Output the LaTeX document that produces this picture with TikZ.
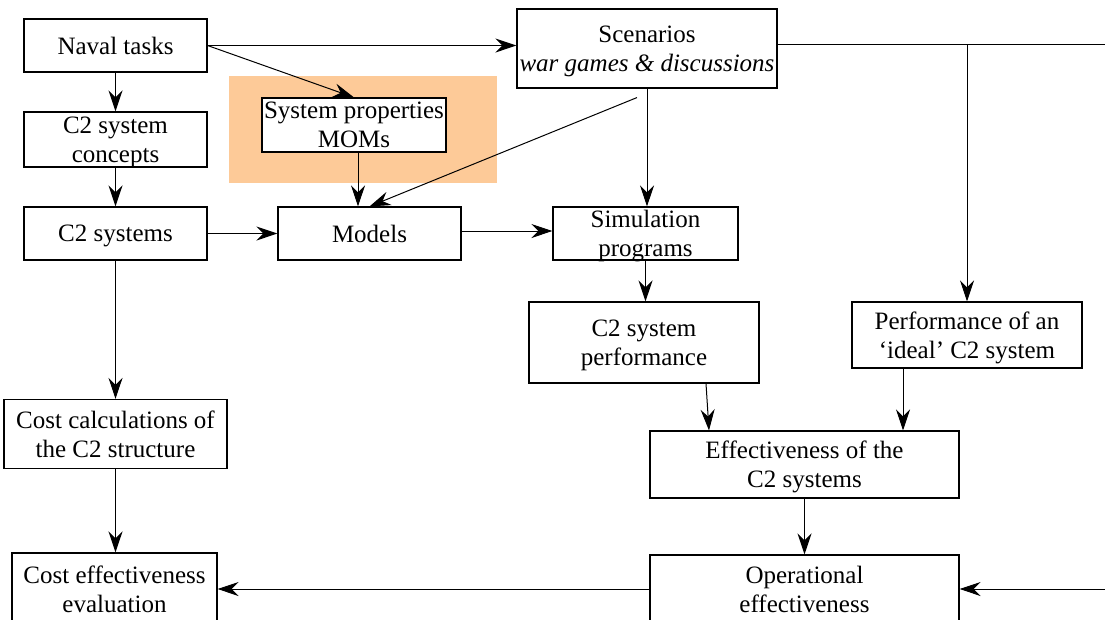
\documentclass[tikz,border=0pt]{standalone}
\usepackage{fontspec}
\setmainfont{Liberation Serif}
\usetikzlibrary{arrows.meta}
\definecolor{peach}{RGB}{253,202,152}
\begin{document}
\begin{tikzpicture}[x=1pt,y=-1pt,
  box/.style={draw, line width=1.1pt, fill=white, inner sep=0pt, align=center,
    text depth=0pt, font=\fontsize{25}{29}\selectfont},
  flow/.style={line width=1pt, -{Stealth[length=21pt,width=14pt,inset=7pt]}},
  plain/.style={line width=1pt}]
\useasboundingbox (0,0) rectangle (1105,619);
\clip (0,0) rectangle (1105,619);
\fill[white] (0,0) rectangle (1105,619);

% highlighted area behind the system properties
\fill[peach] (229,76) rectangle (497,183);

% boxes
\node[box, minimum width=183pt, minimum height=53pt] (naval) at (115.5,45.5) {Naval tasks};
\node[box, minimum width=183pt, minimum height=55pt] (concepts) at (115.5,139.5) {C2 system\\concepts};
\node[box, minimum width=183pt, minimum height=53pt] (c2sys) at (115.5,233.5) {C2 systems};
\node[box, minimum width=184pt, minimum height=54pt] (sysprop) at (354,125) {System properties\\MOMs};
\node[box, minimum width=183pt, minimum height=53pt] (models) at (369.5,233.5) {Models};
\node[box, minimum width=260pt, minimum height=79pt] (scen) at (647,48.5) {Scenarios\\\textit{war games \& discussions}};
\node[box, minimum width=185pt, minimum height=53pt] (sim) at (645.5,233.5) {Simulation\\programs};
\node[box, minimum width=230pt, minimum height=81pt] (perf) at (644,342.5) {C2 system\\performance};
\node[box, minimum width=230pt, minimum height=66pt] (ideal) at (967,335) {Performance of an\\`ideal' C2 system};
\node[box, minimum width=309pt, minimum height=67pt] (eff) at (804.5,464.5) {Effectiveness of the\\C2 systems};
\node[box, minimum width=309pt, minimum height=68pt] (op) at (804.5,589) {Operational\\effectiveness};
\node[box, minimum width=223pt, minimum height=69pt] (costcalc) at (115.5,434) {Cost calculations of\\the C2 structure};
\node[box, minimum width=205pt, minimum height=72pt] (costeff) at (114.5,589) {Cost effectiveness\\evaluation};

% loose ends running off the right-hand side
\coordinate (rt) at (1105,44);
\coordinate (rb) at (1105,589);

% connectors
\draw[flow] (naval.east) -- (naval.east -| scen.west);
\draw[flow] (naval.east) -- (sysprop.north);
\draw[flow] (naval.south) -- (concepts.north);
\draw[flow] (concepts.south) -- (c2sys.north);
\draw[flow] (c2sys.east) -- (models.west);
\draw[flow] ([xshift=4pt]sysprop.south) -- ([xshift=4pt]sysprop.south |- models.north);
\draw[flow] ([shift={(-10,9)}]scen.south) -- (models.north);
\draw[flow] (scen.south) -- (scen.south |- sim.north);
\draw[flow] ([yshift=2.5pt]models.east) -- ([yshift=2.5pt]models.east -| sim.west);
\draw[flow] (sim.south) -- (sim.south |- perf.north);
\draw[plain] (scen.east |- rt) -- (rt);
\draw[flow] (ideal.north |- rt) -- (ideal.north);
\draw[flow] ([xshift=62pt]perf.south) -- ([xshift=65pt]perf.south |- eff.north);
\draw[flow] ([xshift=-64pt]ideal.south) -- ([xshift=-64pt]ideal.south |- eff.north);
\draw[flow] (eff.south) -- (op.north);
\draw[flow] (rb) -- (op.east);
\draw[flow] (op.west) -- (costeff.east);
\draw[flow] (c2sys.south) -- (c2sys.south |- costcalc.north);
\draw[flow] (costcalc.south) -- (costcalc.south |- costeff.north);
\end{tikzpicture}
\end{document}
